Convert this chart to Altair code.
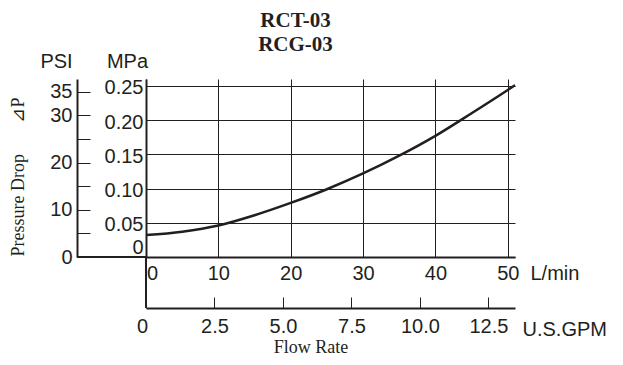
import altair as alt
import pandas as pd

# ---- data ----
flow_lmin = [0, 5, 10, 15, 20, 25, 30, 35, 40, 45, 50, 51]
drop_mpa = [0.032, 0.037, 0.046, 0.061, 0.079, 0.099, 0.122, 0.148, 0.177, 0.210, 0.244, 0.251]

lmin_ticks = [0, 10, 20, 30, 40, 50]
gpm_ticks = [0, 2.5, 5.0, 7.5, 10.0, 12.5]
gpm_labels = ["0", "2.5", "5.0", "7.5", "10.0", "12.5"]
mpa_ticks = [0, 0.05, 0.10, 0.15, 0.20, 0.25]
mpa_labels = ["0", "0.05", "0.10", "0.15", "0.20", "0.25"]
psi_ticks = [0, 5, 10, 15, 20, 25, 30, 35]
psi_labels = ["0", "", "10", "", "20", "", "30", "35"]

title_lines = ["RCT-03", "RCG-03"]
x_title_lmin = "L/min"
x_title_gpm = "U.S.GPM"
x_caption = "Flow Rate"
y_caption = "Pressure Drop\u00a0\u00a0\u00a0\u00a0\u00a0\u00a0\u00a0\u22bfP"

LMIN_PER_GPM = 3.78541
MPA_PER_PSI = 0.00689476
X_MAX = 51
Y_MAX = 0.26

# ---- layout / style ----
W, H = 369, 178
GPM_GAP = 51
PSI_GAP = 69
INK = "#231f20"
SANS = "Liberation Sans"
SERIF = "Liberation Serif"
FS = 20

curve_df = pd.DataFrame({"lmin": flow_lmin, "mpa": drop_mpa})
gpm_df = pd.DataFrame({"gpm": gpm_ticks})
one = pd.DataFrame({"k": [0]})


def cond(test_value, hit, miss):
    return {"condition": {"test": f"datum.value === {test_value}", "value": hit}, "value": miss}


x_lmin = alt.X(
    "lmin:Q",
    scale=alt.Scale(domain=[0, X_MAX], nice=False, zero=False),
    axis=alt.Axis(
        values=lmin_ticks, grid=True, gridColor=INK, gridWidth=1, gridOpacity=1,
        ticks=False, tickSize=0, domainColor=INK, domainWidth=2,
        labelFont=SANS, labelFontSize=FS, labelColor=INK, labelPadding=6,
        labelFlush=False, labelOverlap=False, labelOffset=cond(0, 6, 0),
        title=x_title_lmin, titleAngle=0, titleX=W + 15, titleY=16,
        titleAlign="left", titleBaseline="middle", titleFont=SANS,
        titleFontSize=FS, titleFontWeight="normal", titleColor=INK,
    ),
)

y_mpa = alt.Y(
    "mpa:Q",
    scale=alt.Scale(domain=[0, Y_MAX], nice=False, zero=False),
    axis=alt.Axis(
        values=mpa_ticks, grid=True, gridColor=INK, gridWidth=1, gridOpacity=1,
        ticks=False, tickSize=0, domainColor=INK, domainWidth=2,
        labelFont=SANS, labelFontSize=FS, labelColor=INK, labelPadding=3,
        labelExpr=f"{mpa_labels}[indexof({mpa_ticks}, datum.value)]",
        labelOffset=cond(0, -10, 2),
        title="MPa", titleAngle=0, titleX=-19, titleY=-18,
        titleAlign="center", titleBaseline="middle", titleFont=SANS,
        titleFontSize=FS, titleFontWeight="normal", titleColor=INK,
    ),
)

curve = alt.Chart(curve_df).mark_line(
    color=INK, strokeWidth=2.5, interpolate="monotone"
).encode(x=x_lmin, y=y_mpa)

psi_layer = alt.Chart(curve_df).transform_calculate(
    psi=f"datum.mpa / {MPA_PER_PSI}"
).mark_line(strokeOpacity=0).encode(
    x=alt.X("lmin:Q"),
    y=alt.Y(
        "psi:Q",
        scale=alt.Scale(domain=[0, Y_MAX / MPA_PER_PSI], nice=False, zero=False),
        axis=alt.Axis(
            orient="right", offset=-(W + PSI_GAP), values=psi_ticks,
            grid=False, ticks=True, tickSize=13, tickWidth=1, tickColor=INK,
            domainColor=INK, domainWidth=2,
            labelFont=SANS, labelFontSize=FS, labelColor=INK,
            labelAlign="right", labelPadding=-18,
            labelExpr=f"{psi_labels}[indexof({psi_ticks}, datum.value)]",
            title="PSI", titleAngle=0, titleX=-21, titleY=-18,
            titleAlign="center", titleBaseline="middle", titleFont=SANS,
            titleFontSize=FS, titleFontWeight="normal", titleColor=INK,
        ),
    ),
)

mpa_extension = alt.Chart(one).mark_rule(color=INK, strokeWidth=2).encode(
    x=alt.value(0), y=alt.value(H), y2=alt.value(H + GPM_GAP)
)
psi_base = alt.Chart(one).mark_rule(color=INK, strokeWidth=2).encode(
    x=alt.value(-PSI_GAP), x2=alt.value(0), y=alt.value(H)
)
flow_caption = alt.Chart(one).mark_text(
    font=SERIF, fontSize=18, color=INK, align="center", baseline="middle"
).encode(x=alt.value(165), y=alt.value(269), text=alt.value(x_caption))
drop_caption = alt.Chart(one).mark_text(
    font=SERIF, fontSize=18, color=INK, align="center", baseline="middle", angle=270
).encode(x=alt.value(-127), y=alt.value(98), text=alt.value(y_caption))

inner = alt.layer(
    curve, psi_layer, mpa_extension, psi_base, flow_caption, drop_caption
).resolve_scale(y="independent")

gpm_layer = alt.Chart(gpm_df).mark_point(opacity=0).encode(
    x=alt.X(
        "gpm:Q",
        scale=alt.Scale(domain=[0, X_MAX / LMIN_PER_GPM], nice=False, zero=False),
        axis=alt.Axis(
            orient="top", offset=-(H + GPM_GAP), values=gpm_ticks, grid=False,
            ticks=True, tickSize=11, tickWidth=1, tickColor=INK,
            domainColor=INK, domainWidth=2,
            labelFont=SANS, labelFontSize=FS, labelColor=INK,
            labelBaseline="top", labelPadding=-19.5,
            labelFlush=False, labelOverlap=False,
            labelExpr=f"{gpm_labels}[indexof({gpm_ticks}, datum.value)]",
            labelOffset=cond(0, -4, 0),
            title=x_title_gpm, titleAngle=0, titleX=W + 7, titleY=21,
            titleAlign="left", titleBaseline="middle", titleFont=SANS,
            titleFontSize=FS, titleFontWeight="normal", titleColor=INK,
        ),
    ),
    y=alt.value(H),
)

chart = alt.layer(inner, gpm_layer).resolve_scale(x="independent").properties(
    width=W,
    height=H,
    autosize=alt.AutoSizeParams(type="none"),
    padding={"left": 138, "top": 71, "right": 100, "bottom": 100},
    background="white",
    title=alt.TitleParams(
        text=title_lines, anchor="middle", frame="group", dx=-35, dy=4, offset=0,
        font=SERIF, fontSize=21, fontWeight="bold", color=INK, lineHeight=24,
    ),
).configure_view(stroke=None)

chart.save("out.html", embed_options={"renderer": "svg", "actions": False})
